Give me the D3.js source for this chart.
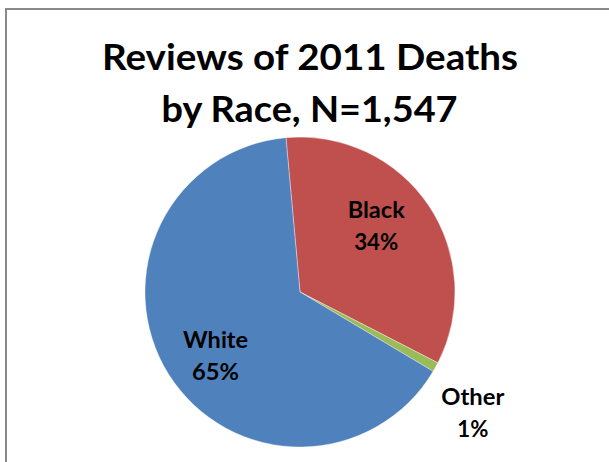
<!DOCTYPE html>
<html>
<head>
<meta charset="utf-8">
<script src="https://cdn.jsdelivr.net/npm/d3@7"></script>
<style>
  html, body { margin: 0; padding: 0; background: #fff; }
  svg { display: block; }
  text { font-family: Lato, "Open Sans", "Liberation Sans", sans-serif; font-weight: bold; fill: #000; }
</style>
</head>
<body>
<svg id="chart" width="609" height="462"></svg>
<script>
// Deaths reviewed in 2011, share by race
const categories = ["Black", "Other", "White"];
const percents = [34, 1, 65];
const colors = ["#C0504D", "#9BBB59", "#4F81BD"];
const titleLines = ["Reviews of 2011 Deaths", "by Race, N=1,547"];

const svg = d3.select("#chart");
const W = 609, H = 462;

// chart-area frame (runs off the right and bottom edges)
svg.append("path")
  .attr("d", `M6,${H} L6,9 L${W},9`)
  .attr("fill", "none")
  .attr("stroke", "#898989")
  .attr("stroke-width", 2);

// two-line title
const titleSpec = [
  { x: 310, y: 70, width: 416 },
  { x: 309.5, y: 122, width: 296 }
];
titleLines.forEach((t, i) => {
  svg.append("text")
    .attr("x", titleSpec[i].x)
    .attr("y", titleSpec[i].y)
    .attr("text-anchor", "middle")
    .style("font-size", "36.5px")
    .attr("textLength", titleSpec[i].width)
    .attr("lengthAdjust", "spacingAndGlyphs")
    .text(t);
});

// pie
const cx = 300, cy = 292, r = 155;
const startAngle = -5.2 * Math.PI / 180;
const pie = d3.pie()
  .sort(null)
  .value(d => d)
  .startAngle(startAngle)
  .endAngle(startAngle + 2 * Math.PI);
const arcs = pie(percents);
const arc = d3.arc().innerRadius(0).outerRadius(r);

const g = svg.append("g").attr("transform", `translate(${cx},${cy})`);
g.selectAll("path.slice")
  .data(arcs)
  .join("path")
  .attr("class", "slice")
  .attr("d", arc)
  .attr("fill", (d, i) => colors[i])
  .attr("stroke", "#ffffff")
  .attr("stroke-opacity", 0.6)
  .attr("stroke-width", 0.6);

// data labels: angle shift (deg) and distance from centre for each slice
const labelLayout = [
  { shift: -7, dist: 101, w1: 57, w2: 44 },
  { shift: 6, dist: 211, w1: 63, w2: 31 },
  { shift: -5, dist: 106, w1: 65, w2: 47 }
];
arcs.forEach((a, i) => {
  const mid = (a.startAngle + a.endAngle) / 2 + labelLayout[i].shift * Math.PI / 180;
  const [lx, ly] = d3.pointRadial(mid, labelLayout[i].dist);
  const t = g.append("text")
    .attr("text-anchor", "middle")
    .style("font-size", "23px");
  t.append("tspan")
    .attr("x", lx).attr("y", ly - 8)
    .attr("textLength", labelLayout[i].w1).attr("lengthAdjust", "spacingAndGlyphs")
    .text(categories[i]);
  t.append("tspan")
    .attr("x", lx).attr("y", ly + 24)
    .attr("textLength", labelLayout[i].w2).attr("lengthAdjust", "spacingAndGlyphs")
    .text(percents[i] + "%");
});
</script>
</body>
</html>
